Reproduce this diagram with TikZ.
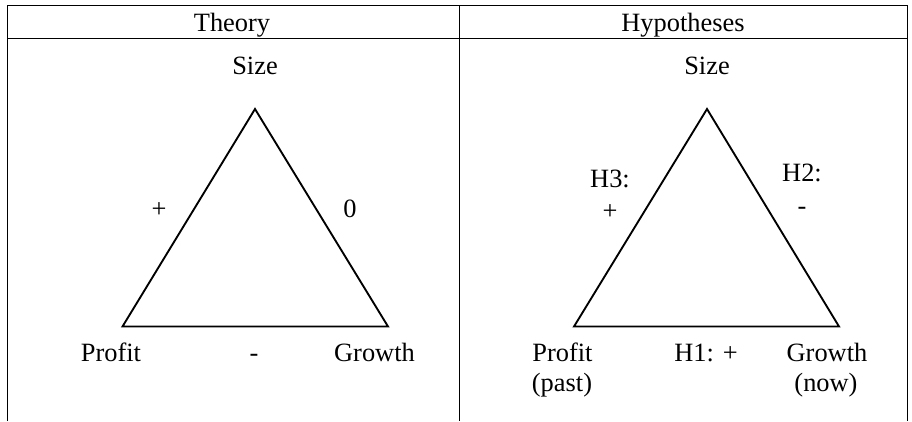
\documentclass[tikz,border=0pt]{standalone}
\usepackage{fontspec}
\setmainfont{Liberation Serif}
\begin{document}
\begin{tikzpicture}[x=0.4545pt,y=-0.4545pt,
  rule/.style={line width=0.85pt},
  tri/.style={line width=0.85pt, line join=miter},
  lbl/.style={font=\fontsize{12}{13.6}\selectfont, inner sep=0pt, anchor=base}]
\useasboundingbox (0,0) rectangle (912,421);
% table
\draw[rule] (7.5,421) -- (7.5,5.5) -- (907.5,5.5) -- (907.5,421);
\draw[rule] (7.5,38.5) -- (907.5,38.5);
\draw[rule] (459.5,5.5) -- (459.5,421);
% headers
\node[lbl] (th) at (232,31) {Theory};
\node[lbl] (hy) at (683,31) {Hypotheses};
% left triangle
\coordinate (la) at (255,109);
\coordinate (ll) at (122.5,326.5);
\coordinate (lr) at (388,326.5);
\draw[tri] (la) -- (ll) -- (lr) -- cycle;
\node[lbl] (ls) at (255,74.5) {Size};
\node[lbl] (lp) at (159,217) {+};
\node[lbl] (lz) at (350,217) {0};
\node[lbl] (lprof) at (111,361.5) {Profit};
\node[lbl] (lm) at (254,361.5) {-};
\node[lbl] (lg) at (374.5,361.5) {Growth};
% right triangle
\coordinate (ra) at (707,109);
\coordinate (rl) at (574,326.5);
\coordinate (rr) at (839,326.5);
\draw[tri] (ra) -- (rl) -- (rr) -- cycle;
\node[lbl] (rs) at (707,74.5) {Size};
\node[lbl] (h3) at (610,187.5) {H3:};
\node[lbl] (h3p) at (610,219.5) {+};
\node[lbl] (h2) at (802,181.5) {H2:};
\node[lbl] (h2m) at (802,214.5) {-};
\node[lbl] (rprof) at (562.5,361.5) {Profit};
\node[lbl] (rpast) at (562,391.5) {(past)};
\node[lbl] (h1) at (706,361.5) {H1: +};
\node[lbl] (rg) at (827,361.5) {Growth};
\node[lbl] (rnow) at (826,391.5) {(now)};
\end{tikzpicture}
\end{document}
